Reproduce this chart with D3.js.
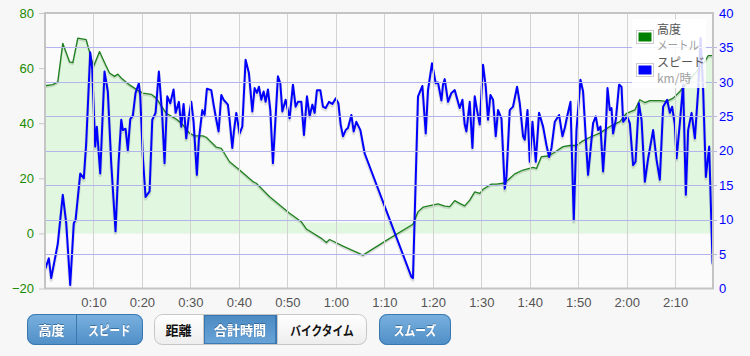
<!DOCTYPE html>
<html><head><meta charset="utf-8">
<script src="https://cdnjs.cloudflare.com/ajax/libs/d3/7.8.5/d3.min.js"></script>
<style>
html,body{margin:0;padding:0;background:#f7f7f7;}
svg{display:block;font-family:"Liberation Sans",Arial,sans-serif;}
</style></head><body><svg id="c" width="750" height="356"></svg>
<script>
// ---- data (time in minutes) ----
const altTime = [0,1.61,2.64,3.67,5.06,5.74,6.77,8.50,9.18,10.01,11.25,12.28,13.31,14.34,15.03,15.73,17.44,19.15,20.19,21.92,22.95,25.02,27.08,28.44,29.82,30.86,32.57,33.27,35.34,36.37,38.08,40.14,42.89,43.59,46.34,50.46,52.88,53.91,57.01,58.04,58.72,61.47,65.59,71.10,75.91,76.95,77.98,81.07,82.46,83.49,84.52,85.55,86.58,87.62,88.65,89.68,90.36,92.09,93.13,94.49,95.52,96.90,98.62,100.68,101.38,102.41,103.78,104.81,106.87,108.26,109.64,110.67,112.38,114.45,116.51,118.58,119.96,121.67,122.70,123.74,124.77,126.83,128.21,129.58,130.96,132.34,134.40,136.12,136.80,137.78];
const altMeters = [53.6,54,55,69,62.3,62,70.9,70.3,66,60.6,66,62,58.2,57,57.8,56.4,53.9,51.9,50.9,50.5,49.1,43.6,41.5,39.4,36.4,35.4,35.4,34.9,31.3,30.9,26,23,18.8,18.2,13.3,7.3,4.2,1.6,-1.8,-3.3,-2.2,-4.6,-7.9,-1.8,3.3,7.9,9.5,10.7,9.9,9.7,11.9,10.9,10,12.1,15.1,14.5,16,17.9,17.9,18.2,19.4,21.6,23,24,23.6,27.9,28.1,29.1,31.5,31.9,31.9,33.3,34.9,36.4,38.8,40.6,43.6,44.8,48.5,47.5,48.2,48.2,47.9,49.1,51.5,54.5,58.8,62.4,64.5,64.5];

const speedTime = [0.10,0.78,1.28,2.64,3.67,4.38,5.20,5.94,6.30,7.27,8.01,8.50,9.33,9.74,10.36,10.69,11.39,12.28,12.96,13.66,14.55,15.17,15.73,16.06,16.62,17.09,17.59,18.12,18.68,19.36,19.65,20.19,20.74,21.57,22.13,22.81,23.49,24.19,24.66,25.22,25.84,26.52,26.94,27.62,28.11,28.59,29.14,29.62,30.18,30.65,31.33,31.74,32.45,32.92,33.40,34.30,34.78,35.34,35.81,36.37,36.84,37.73,38.08,38.64,38.97,39.46,40.14,40.70,41.38,42.06,42.77,43.24,43.72,44.13,44.62,45.10,45.51,45.99,46.48,47.02,47.58,48.05,48.54,48.96,49.64,50.46,51.15,51.70,52.18,52.88,53.42,54.04,54.59,55.15,55.62,56.10,56.80,57.34,57.90,58.58,59.28,59.96,60.52,60.99,61.47,62.03,62.50,63.20,63.67,64.23,65.06,65.95,75.58,75.91,76.95,77.85,78.54,79.01,79.83,80.60,81.07,81.78,82.11,82.46,83.14,83.84,84.52,85.55,86.11,86.58,86.93,87.62,88.17,88.65,89.12,89.68,90.36,90.92,91.39,91.89,92.43,92.98,93.46,94.16,94.84,95.19,95.87,96.55,97.38,97.94,98.62,98.97,99.53,100.00,100.56,101.24,101.92,102.75,103.45,103.99,104.48,105.16,106.05,106.75,107.22,107.78,108.40,109.08,109.64,110.46,111.00,111.70,112.03,113.07,113.62,114.10,114.59,115.13,115.69,116.04,116.51,116.86,117.19,117.75,118.43,118.93,119.26,120.08,120.64,121.32,121.82,122.50,123.06,123.74,124.42,125.45,126.15,126.83,127.51,128.34,128.90,129.37,129.93,130.28,130.96,131.64,132.20,132.67,133.38,134.06,134.74,135.23,135.77,136.33,137.01,137.71];
const speedKmh = [2.9,4.4,1.5,6.5,13.6,9.5,0.5,9.5,9.9,16.7,16,21.1,34.3,31.8,20.6,23.5,16.7,31.5,28.6,18.2,8.3,18.2,24.5,23,23.2,20.1,24.6,25.1,28.4,29.8,27.9,19.1,13.3,14.1,24.5,25.5,31.5,25,18.2,27.9,26.9,28.9,25.5,27.1,23.5,26.8,21.8,24.7,27.1,24.2,16.5,21.6,25.9,25.2,29,28.8,26.7,24.5,22.8,28.1,27.4,26.7,24.5,20.4,22.8,25.5,22.5,23.5,33.2,31.3,25.7,29.1,28.4,29.3,27.4,28.6,27.1,28.9,25.9,18.2,25,30.8,29.8,25.7,27.4,24.7,29.6,26.4,27.1,27.1,22.3,27.9,25,26.7,25.5,28.8,28.8,26.4,26.2,27.1,26.8,27.6,26.9,23.8,22.1,23,23.3,25.2,22.8,24.2,23,19.6,1.7,1.5,27.9,29.4,22.5,28.8,32.7,29.8,29.9,27.3,29.6,30.4,27.1,28.4,28.8,26.2,27.4,23.8,22.8,27.1,20.4,27.9,25.9,23.8,32.5,29.3,24.5,28.1,27.4,22.1,25.9,24.7,14.5,16.2,25.9,26.4,29.3,26.9,22.1,21.6,25.9,18.4,24.2,18.4,25.5,23.5,20.8,19.1,20.4,24.2,25.2,22.1,23.3,25.2,27.1,9.9,23,30.3,28.6,20.1,16.5,24,25,23,23.5,17,23,29.1,25.9,26.2,22.5,24.5,29.6,29.3,24.2,25,24,17.9,18.4,26.9,24.5,15.5,18.9,23,18.7,15.8,26.4,27.4,25.5,26.4,23.8,18.9,24,29.6,13.6,23,25.5,21.8,28.8,36.4,28.8,16.2,20.6,3.6];

const xTickMinutes = [10,20,30,40,50,60,70,80,90,100,110,120,130];
const xTickLabels = ["0:10","0:20","0:30","0:40","0:50","1:00","1:10","1:20","1:30","1:40","1:50","2:00","2:10"];
const altTicks = [-20,0,20,40,60,80];
const speedTicks = [0,5,10,15,20,25,30,35,40];
const legendTitles = ["高度","スピード"];
const legendUnits = ["メートル","km/時"];
const seriesColors = ["#008000","#0000ff"];
const buttonGroups = [["高度","スピード"],["距離","合計時間","バイクタイム"],["スムーズ"]];

// ---- layout ----
const L = 45, R = 713, T = 13, B = 288.5;
const svg = d3.select("#c");
const x = d3.scaleLinear().domain([0, 137.8]).range([L, R]);
const yAlt = d3.scaleLinear().domain([-20, 80]).range([B, T]);
const ySpd = d3.scaleLinear().domain([0, 40]).range([B, T]);

const defs = svg.append("defs");
defs.append("clipPath").attr("id","clip").append("rect").attr("x",L).attr("y",T).attr("width",R-L).attr("height",B-T);
const gBlue = defs.append("linearGradient").attr("id","gblue").attr("x1",0).attr("x2",0).attr("y1",0).attr("y2",1);
gBlue.append("stop").attr("offset","0").attr("stop-color","#7ab1df");
gBlue.append("stop").attr("offset","1").attr("stop-color","#4f8ec7");
const gAct = defs.append("linearGradient").attr("id","gact").attr("x1",0).attr("x2",0).attr("y1",0).attr("y2",1);
gAct.append("stop").attr("offset","0").attr("stop-color","#4a89c2");
gAct.append("stop").attr("offset","1").attr("stop-color","#6aa5d8");
const gWhite = defs.append("linearGradient").attr("id","gwhite").attr("x1",0).attr("x2",0).attr("y1",0).attr("y2",1);
gWhite.append("stop").attr("offset","0").attr("stop-color","#ffffff");
gWhite.append("stop").attr("offset","1").attr("stop-color","#ededed");
const sh = defs.append("filter").attr("id","tshadow").attr("x","-20%").attr("y","-30%").attr("width","140%").attr("height","160%");
sh.append("feDropShadow").attr("dx",0).attr("dy",-1).attr("stdDeviation",0.3).attr("flood-color","#1f4f7a").attr("flood-opacity",0.6);

// plot background
svg.append("rect").attr("x",L).attr("y",T).attr("width",R-L).attr("height",B-T).attr("fill","#fbfbfb");

const plot = svg.append("g").attr("clip-path","url(#clip)");

// altitude fill
const altData = altTime.map((t,i)=>({t, v: altMeters[i]}));
const fillFloor = 4;
plot.append("path").datum(altData)
  .attr("fill","#e1f7df")
  .attr("d", d3.area().x(d=>x(d.t)).y0(yAlt(0)).y1(d=>yAlt(Math.max(d.v, fillFloor))));

// grid lines
const grid = svg.append("g");
grid.selectAll("line.v").data(xTickMinutes).join("line")
  .attr("x1",d=>Math.round(x(d))+0.5).attr("x2",d=>Math.round(x(d))+0.5)
  .attr("y1",T).attr("y2",B).attr("stroke","#d2d2d2").attr("stroke-width",1);
grid.selectAll("line.h").data(speedTicks.filter(d=>d>0&&d<40)).join("line")
  .attr("x1",L).attr("x2",R+4)
  .attr("y1",d=>Math.round(ySpd(d))+0.5).attr("y2",d=>Math.round(ySpd(d))+0.5)
  .attr("stroke","#b3b3ee").attr("stroke-width",1);

// altitude line
const altLine = d3.line().x(d=>x(d.t)).y(d=>yAlt(d.v));
plot.append("path").datum(altData).attr("fill","none")
  .attr("stroke","rgba(0,0,0,0.12)").attr("stroke-width",2).attr("transform","translate(0,1.5)").attr("d",altLine);
plot.append("path").datum(altData).attr("fill","none")
  .attr("stroke","#1e801e").attr("stroke-width",1.3).attr("stroke-linejoin","round").attr("d",altLine);

// speed line
const spdData = speedTime.map((t,i)=>({t, v: speedKmh[i]}));
const spdLine = d3.line().x(d=>x(d.t)).y(d=>ySpd(d.v));
plot.append("path").datum(spdData).attr("fill","none")
  .attr("stroke","rgba(0,0,0,0.10)").attr("stroke-width",3.5).attr("transform","translate(0,2)").attr("stroke-linejoin","round").attr("d",spdLine);
plot.append("path").datum(spdData).attr("fill","none")
  .attr("stroke","#0000ff").attr("stroke-width",2).attr("stroke-linejoin","round").attr("d",spdLine);

// border
svg.append("rect").attr("x",L).attr("y",T).attr("width",R-L).attr("height",B-T)
  .attr("fill","none").attr("stroke","#c4c4c4").attr("stroke-width",2);

// axes
const xAxis = d3.axisBottom(x).tickValues(xTickMinutes).tickFormat((d,i)=>xTickLabels[i]).tickSize(0).tickPadding(9);
const gx = svg.append("g").attr("transform",`translate(0,${B})`).call(xAxis);
gx.select(".domain").remove();
gx.selectAll("text").attr("font-size",13).attr("fill","#545454").attr("font-family","Liberation Sans, Arial, sans-serif");

const yAxisL = d3.axisLeft(yAlt).tickValues(altTicks).tickSize(5).tickPadding(5);
const gl = svg.append("g").attr("transform",`translate(${L-1},0)`).call(yAxisL);
gl.select(".domain").remove();
gl.selectAll("line").attr("stroke","#c8c8c8");
gl.selectAll("text").attr("font-size",13).attr("fill","#1a8a00").attr("font-family","Liberation Sans, Arial, sans-serif");

const yAxisR = d3.axisRight(ySpd).tickValues(speedTicks).tickSize(0).tickPadding(6);
const gr = svg.append("g").attr("transform",`translate(${R},0)`).call(yAxisR);
gr.select(".domain").remove();
gr.selectAll("text").attr("font-size",13).attr("fill","#0000ff").attr("font-family","Liberation Sans, Arial, sans-serif");

// legend
const lg = svg.append("g");
lg.append("rect").attr("x",632).attr("y",19).attr("width",74).attr("height",69).attr("fill","#ffffff").attr("opacity",0.85);
legendTitles.forEach((t,i)=>{
  const y0 = 30.5 + i*33;
  lg.append("rect").attr("x",636.5).attr("y",y0).attr("width",17).attr("height",13).attr("fill","#fff").attr("stroke","#cccccc");
  lg.append("rect").attr("x",638.5).attr("y",y0+2).attr("width",13).attr("height",9).attr("fill",seriesColors[i]);
  lg.append("text").attr("x",657).attr("y",y0+3.5).text(t)
    .attr("font-family","Noto Sans CJK JP").attr("font-size",12).attr("fill","#545454");
  lg.append("text").attr("x",657).attr("y",y0+19.5).text(legendUnits[i])
    .attr("font-family","Noto Sans CJK JP").attr("font-size",12).attr("fill","#a0a0a0")
    .attr("textLength", i===0?42:null).attr("lengthAdjust","spacingAndGlyphs");
});

// buttons
const groupBoxes = [[27,143,[76]],[154,367,[203,277]],[379,451,[]]];
const activeMap = [[true,true],[false,true,false],[true]];
const by = 314, bh = 31;
buttonGroups.forEach((labels,gi)=>{
  const [gx0,gx1,divs] = groupBoxes[gi];
  const edges = [gx0, ...divs, gx1];
  const g = svg.append("g");
  const isBlueGroup = gi!==1;
  const clipId = "bclip"+gi;
  defs.append("clipPath").attr("id",clipId).append("rect").attr("x",gx0).attr("y",by).attr("width",gx1-gx0).attr("height",bh).attr("rx",8);
  const inner = g.append("g").attr("clip-path",`url(#${clipId})`);
  labels.forEach((lab,k)=>{
    const a = edges[k], b = edges[k+1];
    const blue = activeMap[gi][k];
    inner.append("rect").attr("x",a).attr("y",by).attr("width",b-a).attr("height",bh)
      .attr("fill", blue ? (gi===1 ? "url(#gact)" : "url(#gblue)") : "url(#gwhite)");
    if (gi===1 && blue) {
      inner.append("rect").attr("x",a+1).attr("y",by+1).attr("width",b-a-2).attr("height",bh-2)
        .attr("fill","none").attr("stroke","#2f6ea8").attr("stroke-width",1.5);
    }
    const cx = (a+b)/2;
    const tx = g.append("text").attr("x",cx).attr("y",by+20.5).attr("text-anchor","middle").text(lab)
      .attr("font-family","Noto Sans CJK JP").attr("font-weight","bold").attr("font-size",13)
      .attr("fill", blue ? "#ffffff" : "#111111");
    if (blue) tx.attr("filter","url(#tshadow)");
    if (/[ァ-ヶー]/.test(lab) && lab.length>1) tx.attr("textLength", lab.length*10.6).attr("lengthAdjust","spacingAndGlyphs");
  });
  divs.forEach(d=>{
    g.append("line").attr("x1",d+0.5).attr("x2",d+0.5).attr("y1",by).attr("y2",by+bh)
      .attr("stroke", isBlueGroup ? "#3a77ae" : "#c8c8c8");
  });
  g.append("rect").attr("x",gx0+0.5).attr("y",by+0.5).attr("width",gx1-gx0-1).attr("height",bh-1).attr("rx",8)
    .attr("fill","none").attr("stroke", isBlueGroup ? "#3a77ae" : "#c6c6c6");
});
</script></body></html>
